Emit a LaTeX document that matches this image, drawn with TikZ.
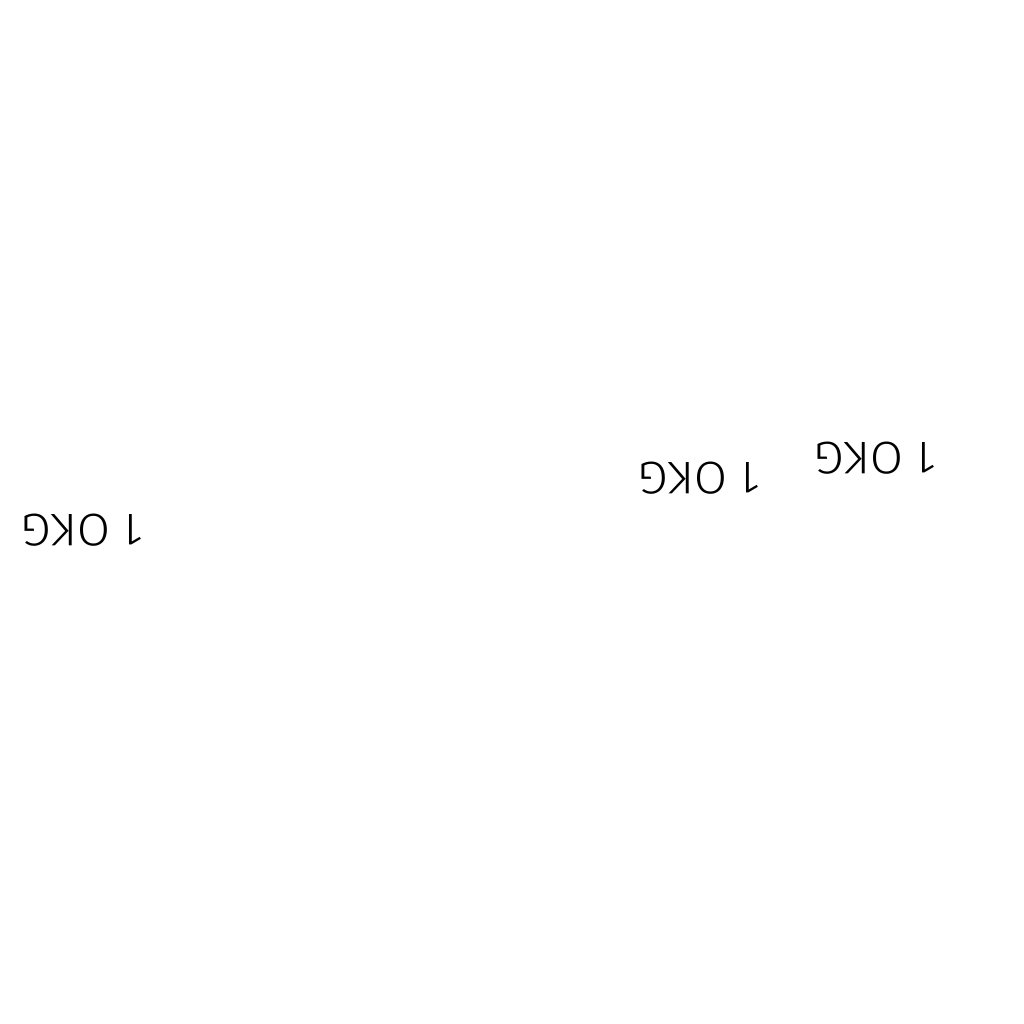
\documentclass[tikz,border=0pt]{standalone}
\usepackage{fontspec}
\setmainfont{Fira Sans Light}
\begin{document}
\begin{tikzpicture}[x=0.01cm,y=-0.01cm,
  lbl/.style={inner sep=0pt,rotate=180,font=\fontsize{13}{13}\selectfont,xscale=1.05}]
\useasboundingbox[fill=white] (0,0) rectangle (1024,1024);
\node[lbl] (t1) at (83,530) {1 OKG};
\node[lbl] (t2) at (700,478) {1 OKG};
\node[lbl] (t3) at (876,458) {1 OKG};
\end{tikzpicture}
\end{document}
